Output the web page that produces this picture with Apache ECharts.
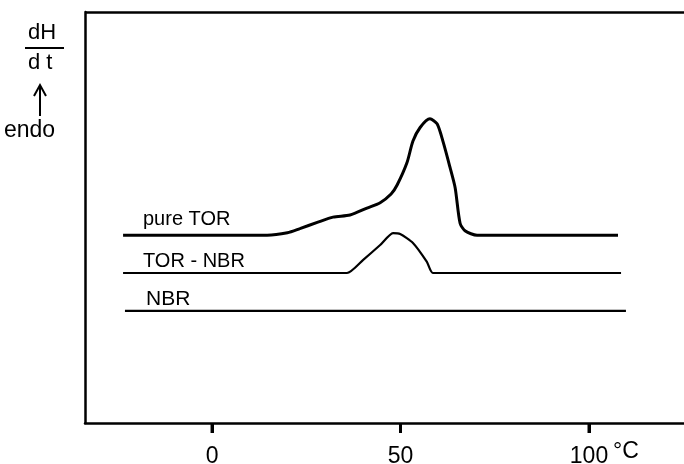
<!DOCTYPE html>
<html>
<head>
<meta charset="utf-8">
<script src="https://cdn.jsdelivr.net/npm/echarts@6/dist/echarts.min.js"></script>
<style>
html,body{margin:0;padding:0;background:#fff;}
#chart{width:684px;height:464px;}
</style>
</head>
<body>
<div id="chart"></div>
<script>
// temperature (°C) vs dH/dt (arbitrary units)
const xTicks = [0, 50, 100];
const xRange = [-33.7, 125.2];
const yRange = [0, 100];
const pureTOR = [
  [-23.6, 45.7], [14.6, 45.7], [20, 46.3], [23.3, 47.3], [27.9, 48.8], [32.1, 50.1],
  [36.6, 50.6], [41.1, 52.3], [44.6, 53.6], [47.5, 55.7], [49.1, 57.9], [51.7, 63.3],
  [53.3, 68.6], [55.2, 71.9], [57.8, 74.0], [59.7, 72.8], [61.3, 68.4], [63.1, 62.3],
  [64.5, 57.2], [65.8, 48.6], [67.2, 46.7], [70.3, 45.7], [107.7, 45.7]
];
const torNBR = [
  [-23.6, 36.5], [35.8, 36.5], [40.1, 39.7], [44.6, 43.3], [48.0, 46.2], [49.9, 46.0],
  [53.3, 43.8], [57.0, 39.2], [58.6, 36.5], [108.5, 36.5]
];
const NBR = [[-23.1, 27.3], [109.8, 27.3]];
const seriesNames = ['pure TOR', 'TOR - NBR', 'NBR'];

const chart = echarts.init(document.getElementById('chart'));
const black = '#000';
const font = 'Liberation Sans, Arial, sans-serif';
chart.setOption({
  animation: false,
  backgroundColor: '#fff',
  grid: {left: 85, right: 0, top: 12, bottom: 41, outerBoundsMode: 'none'},
  xAxis: {
    type: 'value', min: xRange[0], max: xRange[1], position: 'bottom',
    axisLine: {show: true, onZero: false, lineStyle: {color: black, width: 2.5}},
    axisTick: {show: true, customValues: xTicks, length: 10, lineStyle: {color: black, width: 3}},
    axisLabel: {customValues: xTicks, color: black, fontSize: 23, fontFamily: font, margin: 22},
    splitLine: {show: false}
  },
  yAxis: {
    type: 'value', min: yRange[0], max: yRange[1], position: 'left',
    axisLine: {show: true, onZero: false, lineStyle: {color: black, width: 2.5}},
    axisTick: {show: false}, axisLabel: {show: false}, splitLine: {show: false}
  },
  series: [
    {name: seriesNames[0], type: 'line', data: pureTOR, smooth: 0.25, symbol: 'none',
     lineStyle: {color: black, width: 3}},
    {name: seriesNames[1], type: 'line', data: torNBR, smooth: 0.2, symbol: 'none',
     lineStyle: {color: black, width: 2.2}},
    {name: seriesNames[2], type: 'line', data: NBR, symbol: 'none', clip: false,
     lineStyle: {color: black, width: 2.2},
     markLine: {silent: true, symbol: 'none', label: {show: false},
       lineStyle: {color: black, width: 2.5, type: 'solid'},
       data: [[{coord: [xRange[0], yRange[1]]}, {coord: [xRange[1], yRange[1]]}]]}},
    {name: 'ticks', type: 'custom', data: xTicks.map(v => [v, yRange[0]]), clip: false, z: 20,
     renderItem: function (params, api) {
       const p = api.coord([api.value(0), api.value(1)]);
       return {type: 'rect', shape: {x: p[0] - 1.5, y: p[1], width: 3, height: 10},
               style: {fill: black}};
     }}
  ],
  graphic: [
    {type: 'text', left: 143, top: 209, style: {text: seriesNames[0], font: '20px ' + font, fill: black}},
    {type: 'text', left: 143, top: 251, style: {text: seriesNames[1], font: '20px ' + font, fill: black}},
    {type: 'text', left: 146, top: 289, style: {text: seriesNames[2], font: '21px ' + font, fill: black}},
    {type: 'text', left: 613, top: 440, style: {text: '°C', font: '23px ' + font, fill: black}},
    {type: 'text', left: 28, top: 22, style: {text: 'dH', font: '22px ' + font, fill: black}},
    {type: 'line', shape: {x1: 25, y1: 48, x2: 64, y2: 48}, style: {stroke: black, lineWidth: 2}},
    {type: 'text', left: 28, top: 52, style: {text: 'd t', font: '22px ' + font, fill: black}},
    {type: 'line', shape: {x1: 40, y1: 87, x2: 40, y2: 116}, style: {stroke: black, lineWidth: 2}},
    {type: 'polyline', shape: {points: [[34, 96], [40, 85], [46, 96]]}, style: {stroke: black, lineWidth: 2, fill: null}},
    {type: 'text', left: 4, top: 119, style: {text: 'endo', font: '23px ' + font, fill: black}}
  ]
});
</script>
</body>
</html>
